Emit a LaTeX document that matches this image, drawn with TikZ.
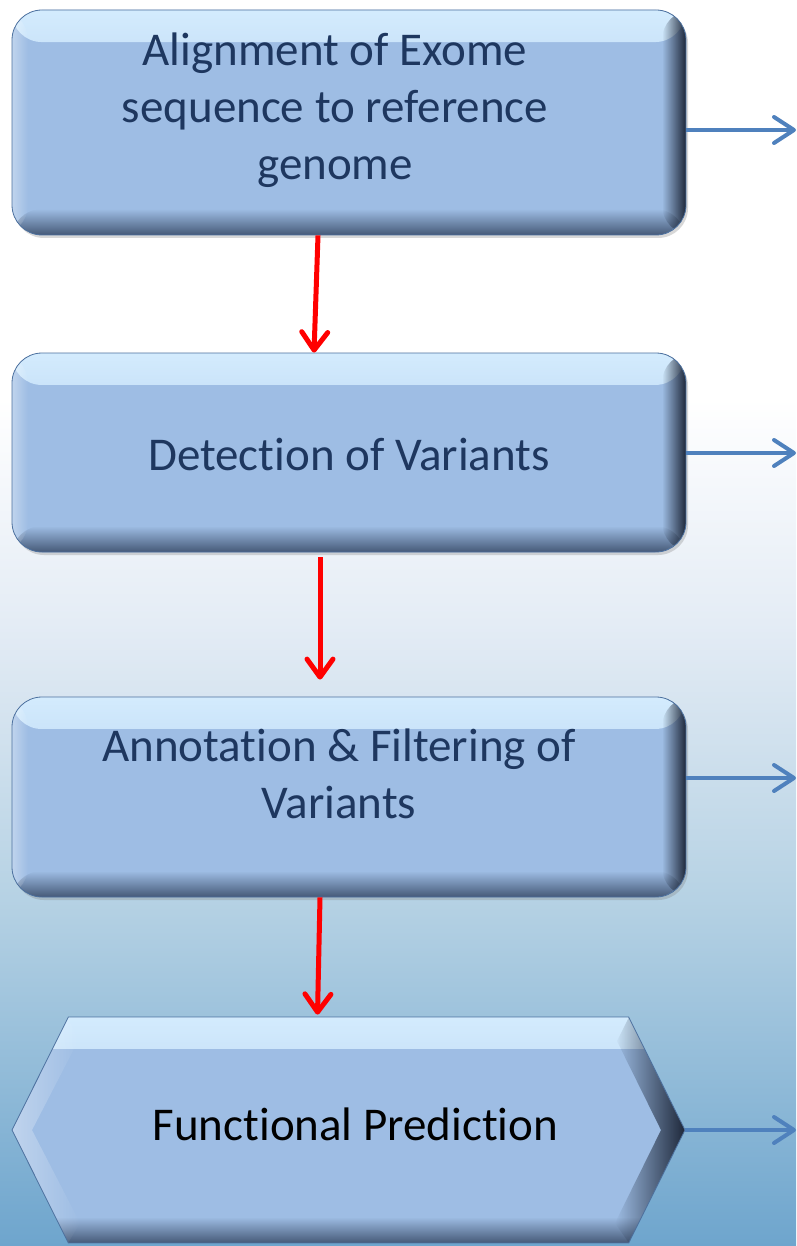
\documentclass[tikz,border=0pt]{standalone}
\usepackage{fontspec}
\setmainfont[Ligatures=NoCommon]{Carlito}
\usetikzlibrary{arrows.meta,shapes.symbols,shadows,fadings}
\definecolor{boxfill}{RGB}{158,189,228}
\definecolor{boxtop}{RGB}{212,236,254}
\definecolor{boxbot}{RGB}{70,90,120}
\definecolor{boxedge}{RGB}{30,40,58}
\definecolor{boxline}{RGB}{76,112,158}
\definecolor{textnavy}{RGB}{30,55,95}
\definecolor{bluearrow}{RGB}{79,129,189}
\definecolor{bgbot}{RGB}{110,165,205}
\definecolor{bglow}{RGB}{182,210,228}
\definecolor{bgmid}{RGB}{228,236,245}
\pgfdeclareverticalshading{bgshade}{100bp}{color(0bp)=(bgbot); color(25bp)=(bgbot); color(39bp)=(bglow); color(50bp)=(bgmid); color(59bp)=(white); color(100bp)=(white)}
\tikzfading[name=fadeinright, left color=transparent!100, middle color=transparent!75, right color=transparent!0]
\tikzfading[name=fadeinleft, left color=transparent!0, right color=transparent!100]
\tikzfading[name=fadeindown, top color=transparent!100, middle color=transparent!70, bottom color=transparent!0]
\tikzfading[name=fadeinup, top color=transparent!0, bottom color=transparent!100]
\tikzset{
    stepbox/.style={rounded corners=30pt, draw=boxline, line width=0.8pt, fill=boxfill,
        minimum width=674pt, inner ysep=0pt, text=textnavy,
        font=\fontsize{47}{57}\selectfont,
        drop shadow={shadow xshift=2pt, shadow yshift=-3pt, opacity=0.3},
        path picture={
            \fill[boxtop, path fading=fadeinup] (path picture bounding box.north west)
                rectangle ([yshift=-32pt]path picture bounding box.north east);
            \fill[boxbot, path fading=fadeindown] ([yshift=26pt]path picture bounding box.south west)
                rectangle (path picture bounding box.south east);
            \fill[boxedge, path fading=fadeinright] ([xshift=-24pt]path picture bounding box.north east)
                rectangle (path picture bounding box.south east);
            \fill[white, opacity=0.35, path fading=fadeinleft] (path picture bounding box.north west)
                rectangle ([xshift=16pt]path picture bounding box.south west);
        }},
    hexbox/.style={shape=signal, signal to=west and east, signal pointer angle=127,
        draw=boxline, line width=0.8pt, fill=boxfill,
        minimum width=673pt, minimum height=226pt, inner ysep=0pt, text=black,
        font=\fontsize{47}{57}\selectfont,
        path picture={
            \fill[boxtop, path fading=fadeinup] (path picture bounding box.north west)
                rectangle ([yshift=-32pt]path picture bounding box.north east);
            \fill[boxbot, path fading=fadeindown] ([yshift=26pt]path picture bounding box.south west)
                rectangle (path picture bounding box.south east);
            \fill[boxedge, path fading=fadeinright]
                ([xshift=-56pt]path picture bounding box.north east)
                -- (path picture bounding box.east)
                -- ([xshift=-56pt]path picture bounding box.south east)
                -- ([xshift=-70pt,yshift=20pt]path picture bounding box.south east)
                -- ([xshift=-24pt]path picture bounding box.east)
                -- ([xshift=-68pt,yshift=-24pt]path picture bounding box.north east) -- cycle;
            \fill[white, opacity=0.35, path fading=fadeinleft]
                ([xshift=56pt]path picture bounding box.north west)
                -- (path picture bounding box.west)
                -- ([xshift=56pt]path picture bounding box.south west)
                -- ([xshift=68pt,yshift=20pt]path picture bounding box.south west)
                -- ([xshift=20pt]path picture bounding box.west)
                -- ([xshift=66pt,yshift=-24pt]path picture bounding box.north west) -- cycle;
        }},
    redarr/.style={draw=red, line width=5pt, -{Straight Barb[length=18pt,width=26pt,round]}},
    bluearr/.style={draw=bluearrow, line width=4pt, -{Straight Barb[length=20pt,width=26pt,round]}}
}
\begin{document}
\begin{tikzpicture}[x=1pt,y=1pt]
                \useasboundingbox (0,0) rectangle (796,-1246);
                \shade[shading=bgshade] (0,0) rectangle (796,-1246);

                % text height/depth put the last baseline where the slide has it
                \node[stepbox, minimum height=225pt, text height=170pt, text depth=55pt] (A) at (349,-122.5)
                    {\begin{tabular}[b]{@{}c@{}}Alignment of Exome\\sequence to reference\\genome\end{tabular}\hspace*{28pt}};
                \node[stepbox, minimum height=199pt, text height=117pt, text depth=82pt] (B) at (349,-452.5)
                    {Detect\kern0pt ion of Variants};
                \node[stepbox, minimum height=200pt, text height=121pt, text depth=79pt] (C) at (349,-797)
                    {\begin{tabular}[b]{@{}c@{}}Annotat\kern0pt ion \& Filtering of\\Variants\end{tabular}\hspace*{20pt}};
                \node[hexbox, text height=123pt, text depth=103pt] (D) at (348.5,-1130)
                    {\hspace*{14pt}Funct\kern0pt ional Predict\kern0pt ion};

                \coordinate (R1) at (796,-130);
                \coordinate (R2) at (796,-453);
                \coordinate (R3) at (796,-778);
                \coordinate (R4) at (796,-1130);

                \draw[redarr] ([xshift=-31pt]A.south) to ([xshift=-35pt]B.north);
                \draw[redarr] ([xshift=-29pt,yshift=-5pt]B.south) to ([xshift=-29pt,yshift=17pt]C.north);
                \draw[redarr] ([xshift=-29pt]C.south) to ([xshift=-31pt,yshift=2pt]D.north);

                \draw[bluearr] (A.east |- R1) to (R1);
                \draw[bluearr] (B.east |- R2) to (R2);
                \draw[bluearr] (C.east |- R3) to (R3);
                \draw[bluearr] (D.east) to (R4);
\end{tikzpicture}
\end{document}
